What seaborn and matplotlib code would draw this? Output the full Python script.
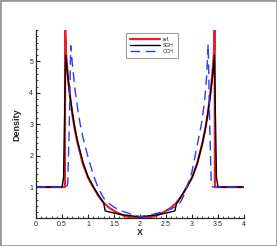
import pandas as pd
import matplotlib
matplotlib.use("Agg")
import matplotlib.pyplot as plt
from matplotlib.patches import Rectangle
from matplotlib.ticker import MultipleLocator
import seaborn as sns

# reference solution
ref_x = [0.0, 0.555, 0.56, 0.58, 0.62, 0.66, 0.70, 0.75, 0.80, 0.90, 1.00, 1.10, 1.20,
         1.30, 1.40, 1.50, 1.60, 1.70, 1.80, 1.90, 2.00, 2.10, 2.20, 2.30, 2.40, 2.50,
         2.60, 2.70, 2.80, 2.90, 3.00, 3.10, 3.20, 3.25, 3.30, 3.34, 3.38, 3.42, 3.435,
         3.44, 4.0]
ref_y = [1.0, 1.0, 6.0, 5.2, 4.4, 3.8, 3.3, 2.8, 2.4, 1.75, 1.3, 1.0, 0.72,
         0.5, 0.35, 0.24, 0.15, 0.08, 0.04, 0.02, 0.01, 0.02, 0.04, 0.08, 0.15, 0.24,
         0.35, 0.5, 0.72, 1.0, 1.3, 1.75, 2.4, 2.8, 3.3, 3.8, 4.4, 5.2, 6.0,
         1.0, 1.0]

# SGH scheme
sgh_x = [0.0, 0.50, 0.53, 0.57, 0.60, 0.65, 0.70, 0.75, 0.80, 0.90, 1.00, 1.10, 1.20,
         1.30, 1.33, 1.50, 1.70, 2.00, 2.30, 2.50, 2.67, 2.70, 2.80, 2.90, 3.00, 3.10,
         3.20, 3.25, 3.30, 3.35, 3.40, 3.43, 3.47, 3.50, 4.0]
sgh_y = [1.0, 1.0, 1.3, 5.2, 4.7, 3.95, 3.35, 2.85, 2.45, 1.8, 1.33, 1.02, 0.74,
         0.5, 0.24, 0.17, 0.11, 0.05, 0.11, 0.17, 0.24, 0.46, 0.72, 1.0, 1.3, 1.75,
         2.4, 2.8, 3.3, 3.9, 4.6, 5.2, 1.3, 1.0, 1.0]

# CCH scheme
cch_x = [0.0, 0.58, 0.61, 0.64, 0.667, 0.70, 0.75, 0.80, 0.85, 0.90, 1.00, 1.10, 1.20,
         1.30, 1.40, 1.50, 1.60, 1.80, 2.00, 2.20, 2.40, 2.60, 2.70, 2.77, 2.85, 2.90,
         3.00, 3.06, 3.12, 3.18, 3.24, 3.28, 3.31, 3.34, 3.37, 3.40, 4.0]
cch_y = [1.0, 1.0, 1.1, 3.0, 5.5, 4.9, 4.1, 3.5, 3.0, 2.6, 1.95, 1.4, 0.95,
         0.65, 0.48, 0.36, 0.27, 0.15, 0.06, 0.11, 0.2, 0.3, 0.4, 0.5, 0.75, 1.0,
         1.5, 2.0, 2.5, 3.0, 3.7, 4.5, 5.55, 3.0, 1.05, 1.0, 1.0]

x_ticks = [0, 0.5, 1, 1.5, 2, 2.5, 3, 3.5, 4]
x_ticklabels = ['0', '0.5', '1', '1.5', '2', '2.5', '3', '3.5', '4']
y_ticks = [1, 2, 3, 4, 5]

sns.set_theme(style="ticks")
plt.rcParams['font.family'] = ['Liberation Sans', 'DejaVu Sans']

fig = plt.figure(figsize=(2.77, 2.46), dpi=100)
ax = fig.add_axes([0.13, 0.112, 0.751, 0.766])

ref_df = pd.DataFrame({'x': ref_x, 'y': ref_y})
sgh_df = pd.DataFrame({'x': sgh_x, 'y': sgh_y})
cch_df = pd.DataFrame({'x': cch_x, 'y': cch_y})

sns.lineplot(data=ref_df, x='x', y='y', ax=ax, color='#e8202a', lw=1.6,
             estimator=None, sort=False, label='ref.')
sns.lineplot(data=sgh_df, x='x', y='y', ax=ax, color='black', lw=1.0,
             estimator=None, sort=False, label='SGH')
sns.lineplot(data=cch_df, x='x', y='y', ax=ax, color='#2a3cff', lw=1.0,
             estimator=None, sort=False, label='CCH')
ax.lines[-1].set_dashes((7, 4))

ax.set_xlim(0, 4)
ax.set_ylim(0, 6)
ax.set_xticks(x_ticks)
ax.set_xticklabels(x_ticklabels)
ax.set_yticks(y_ticks)
ax.set_yticklabels([str(v) for v in y_ticks])
ax.xaxis.set_minor_locator(MultipleLocator(0.1))
ax.yaxis.set_minor_locator(MultipleLocator(0.2))
ax.tick_params(which='major', direction='in', length=3, width=0.8, labelsize=5, pad=2)
ax.tick_params(which='minor', direction='in', length=1.5, width=0.6)
for s in ['top', 'right']:
    ax.spines[s].set_visible(False)
for s in ['left', 'bottom']:
    ax.spines[s].set_linewidth(0.9)

ax.set_xlabel('X', fontsize=6.5, fontweight='bold', labelpad=0)
ax.set_ylabel('Density', fontsize=6.5, fontweight='bold', labelpad=6)

leg = ax.legend(loc='upper left', bbox_to_anchor=(0.42, 1.0), fontsize=3.6,
                handlelength=6, frameon=True, fancybox=False, borderpad=0.8,
                labelspacing=0.2, handletextpad=0.6)
leg.get_frame().set_edgecolor('#888888')
leg.get_frame().set_linewidth(0.8)

fig.patches.append(Rectangle((0, 0), 1, 1, transform=fig.transFigure, fill=False,
                             edgecolor='#999999', lw=2))

fig.savefig('out.png', dpi=100)
